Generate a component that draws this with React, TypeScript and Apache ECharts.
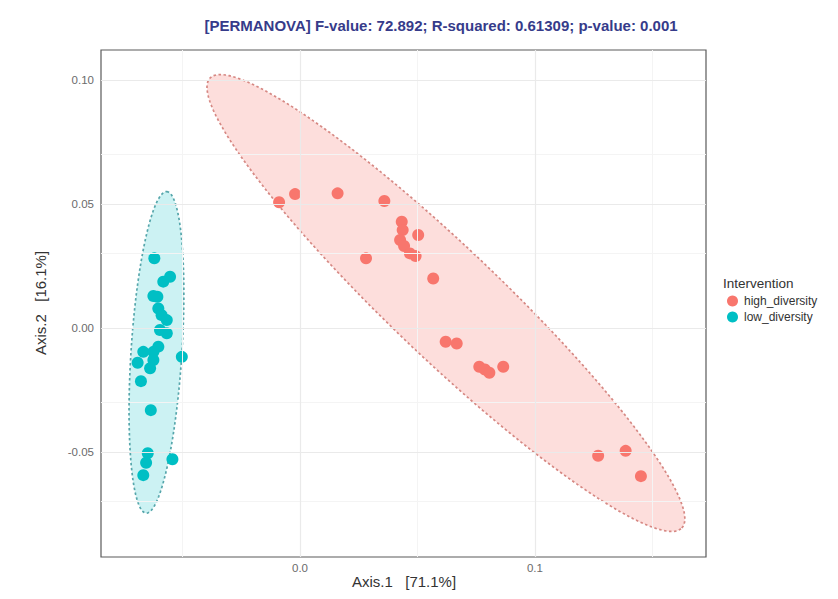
import React, { useEffect, useRef } from "react";
import * as echarts from "echarts";

const groups = ["high_diversity", "low_diversity"];
const groupColors = ["#F8766D", "#00BFC4"];

const highX = [-0.0089, -0.0021, 0.016, 0.0359, 0.0433, 0.0437, 0.0503, 0.0426, 0.0443, 0.0468, 0.0492, 0.0281, 0.0567, 0.062, 0.0667, 0.0763, 0.0787, 0.0806, 0.0865, 0.1269, 0.1386, 0.1451];
const highY = [0.0507, 0.054, 0.0543, 0.0512, 0.0429, 0.0395, 0.0375, 0.0355, 0.0331, 0.0301, 0.029, 0.0281, 0.02, -0.0055, -0.0062, -0.0156, -0.0167, -0.018, -0.0156, -0.0515, -0.0495, -0.0597];

const lowX = [-0.062, -0.0553, -0.0582, -0.0624, -0.0607, -0.0603, -0.0589, -0.0567, -0.0596, -0.0567, -0.0603, -0.0624, -0.0667, -0.0624, -0.0691, -0.0503, -0.0638, -0.0677, -0.0635, -0.0648, -0.0655, -0.0543, -0.0667];
const lowY = [0.0281, 0.0207, 0.0187, 0.0129, 0.0126, 0.0079, 0.0052, 0.0032, -0.0008, -0.0021, -0.0075, -0.0096, -0.0096, -0.0129, -0.014, -0.0116, -0.0162, -0.0214, -0.0331, -0.0505, -0.0543, -0.0529, -0.0593];

// confidence ellipses: [centerX, centerY, axis1X, axis1Y, axis2X, axis2Y]
const highEllipse = [0.0621, 0.0101, 0.1004, -0.0907, 0.0162, 0.016];
const lowEllipse = [-0.0611, -0.0098, 0.0044, 0.0648, 0.0108, -0.0007];

const xRange = [-0.0847, 0.1728];
const yRange = [-0.0923, 0.1121];
const xTicks = [0, 0.1];
const xTickLabels = ["0.0", "0.1"];
const yTicks = [-0.05, 0, 0.05, 0.1];
const yTickLabels = ["-0.05", "0.00", "0.05", "0.10"];
const xMinor = [-0.05, 0.05, 0.15];
const yMinor = [-0.075, -0.025, 0.025, 0.075];

const titleText = "[PERMANOVA] F-value: 72.892; R-squared: 0.61309; p-value: 0.001";
const xName = "Axis.1   [71.1%]";
const yName = "Axis.2   [16.1%]";
const legendTitle = "Intervention";

const FONT = "Liberation Sans, Arial, sans-serif";

function ellipseSeries(name: string, params: number[], fill: string, stroke: string) {
  return {
    name,
    type: "custom",
    z: 2,
    silent: true,
    data: [params],
    encode: { x: 0, y: 1 },
    renderItem: (_p: any, api: any) => {
      const cx = api.value(0), cy = api.value(1), ux = api.value(2), uy = api.value(3), vx = api.value(4), vy = api.value(5);
      const pts: number[][] = [];
      const n = 160;
      for (let i = 0; i < n; i++) {
        const t = (i / n) * Math.PI * 2;
        pts.push(api.coord([cx + ux * Math.cos(t) + vx * Math.sin(t), cy + uy * Math.cos(t) + vy * Math.sin(t)]));
      }
      return {
        type: "polygon",
        shape: { points: pts },
        style: { fill, stroke, lineWidth: 1.7, lineDash: [2.5, 2.5] },
      };
    },
  };
}

export default function App() {
  const ref = useRef<HTMLDivElement>(null);
  useEffect(() => {
    if (!ref.current) return;
    const chart = echarts.init(ref.current, undefined, { renderer: "svg" });
    const lblX = (v: number) => {
      const i = xTicks.findIndex((t) => Math.abs(t - v) < 1e-9);
      return i >= 0 ? xTickLabels[i] : "";
    };
    const lblY = (v: number) => {
      const i = yTicks.findIndex((t) => Math.abs(t - v) < 1e-9);
      return i >= 0 ? yTickLabels[i] : "";
    };
    chart.setOption({
      animation: false,
      backgroundColor: "#ffffff",
      textStyle: { fontFamily: FONT },
      grid: {
        left: 101,
        top: 50,
        right: 132,
        bottom: 42,
        show: true,
        borderColor: "#5a5a5a",
        borderWidth: 1.2,
        backgroundColor: "#ffffff",
        z: 0,
      },
      xAxis: {
        type: "value",
        min: xRange[0],
        max: xRange[1],
        axisLine: { show: false },
        splitLine: { show: false },
        axisTick: { show: true, customValues: xTicks, length: 4, lineStyle: { color: "#5a5a5a" } },
        axisLabel: { customValues: xTicks, formatter: lblX, color: "#6b6b6b", fontSize: 11.5, margin: 5, fontFamily: FONT },
      },
      yAxis: {
        type: "value",
        min: yRange[0],
        max: yRange[1],
        axisLine: { show: false },
        splitLine: { show: false },
        axisTick: { show: true, customValues: yTicks, length: 4, lineStyle: { color: "#5a5a5a" } },
        axisLabel: { customValues: yTicks, formatter: lblY, color: "#6b6b6b", fontSize: 11.5, margin: 7, fontFamily: FONT },
      },
      legend: {
        data: groups,
        orient: "vertical",
        left: 722,
        top: 290,
        icon: "circle",
        itemWidth: 11,
        itemHeight: 11,
        itemGap: 4,
        textStyle: { fontSize: 12, color: "#333", fontFamily: FONT, padding: [0, 0, 0, 1] },
      },
      graphic: [
        {
          type: "text",
          x: 441,
          y: 25,
          style: { text: titleText, fill: "#363b8a", font: `bold 15px ${FONT}`, textAlign: "center", textVerticalAlign: "middle" },
        },
        {
          type: "text",
          x: 404,
          y: 581,
          style: { text: xName, fill: "#333", font: `15px ${FONT}`, textAlign: "center", textVerticalAlign: "middle" },
        },
        {
          type: "text",
          x: 40,
          y: 303,
          rotation: Math.PI / 2,
          style: { text: yName, fill: "#333", font: `15px ${FONT}`, textAlign: "center", textVerticalAlign: "middle" },
        },
        {
          type: "text",
          x: 723,
          y: 283,
          style: { text: legendTitle, fill: "#333", font: `13.5px ${FONT}`, textAlign: "left", textVerticalAlign: "middle" },
        },
      ],
      series: [
        {
          name: "grid-lines",
          type: "line",
          z: 1,
          data: [],
          silent: true,
          markLine: {
            silent: true,
            symbol: "none",
            label: { show: false },
            animation: false,
            data: [
              ...xMinor.map((v) => ({ xAxis: v, lineStyle: { color: "#f4f4f4", width: 1, type: "solid" } })),
              ...yMinor.map((v) => ({ yAxis: v, lineStyle: { color: "#f4f4f4", width: 1, type: "solid" } })),
              ...xTicks.map((v) => ({ xAxis: v, lineStyle: { color: "#eaeaea", width: 1.2, type: "solid" } })),
              ...yTicks.map((v) => ({ yAxis: v, lineStyle: { color: "#eaeaea", width: 1.2, type: "solid" } })),
            ],
          },
        },
        ellipseSeries("high_diversity ellipse", highEllipse, "rgba(248,118,109,0.24)", "#d68883"),
        ellipseSeries("low_diversity ellipse", lowEllipse, "rgba(0,191,196,0.2)", "#56a6ab"),
        {
          name: groups[0],
          type: "scatter",
          z: 3,
          symbolSize: 12,
          itemStyle: { color: groupColors[0], opacity: 1 },
          data: highX.map((x, i) => [x, highY[i]]),
        },
        {
          name: groups[1],
          type: "scatter",
          z: 3,
          symbolSize: 12,
          itemStyle: { color: groupColors[1], opacity: 1 },
          data: lowX.map((x, i) => [x, lowY[i]]),
        },
      ],
    });
    return () => chart.dispose();
  }, []);
  return <div ref={ref} style={{ position: "fixed", left: 0, top: 0, width: 838, height: 599 }} />;
}
